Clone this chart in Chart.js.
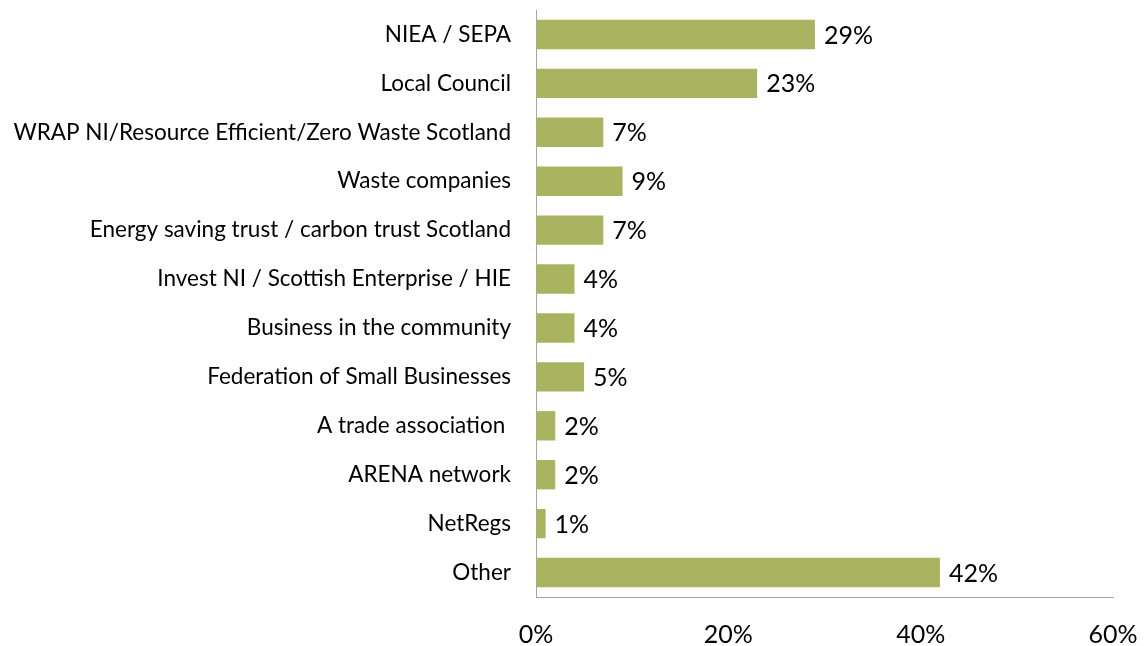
<!DOCTYPE html>
<html>
<head>
<meta charset="utf-8">
<script src="https://cdn.jsdelivr.net/npm/chart.js@4"></script>
<style>
  html, body { margin: 0; padding: 0; background: #fff; }
  #wrap { width: 1148px; height: 646px; }
</style>
</head>
<body>
<div id="wrap"><canvas id="sources-canvas"></canvas></div>
<script>
const categories = [
  "NIEA / SEPA",
  "Local Council",
  "WRAP NI/Resource Efficient/Zero Waste Scotland",
  "Waste companies",
  "Energy saving trust / carbon trust Scotland",
  "Invest NI / Scottish Enterprise / HIE",
  "Business in the community",
  "Federation of Small Businesses",
  "A trade association ",
  "ARENA network",
  "NetRegs",
  "Other",
];
const percentages = [29, 23, 7, 9, 7, 4, 4, 5, 2, 2, 1, 42];
const xTickValues = [0, 20, 40, 60];

const fontFamily = "Lato, 'Open Sans', sans-serif";
const barColor = "#A9B360";
const axisColor = "#A6A6A6";

// writes the "29%" labels just past each bar end
const valueLabels = {
  id: "valueLabels",
  afterDatasetsDraw(chart) {
    const { ctx } = chart;
    const meta = chart.getDatasetMeta(0);
    ctx.save();
    ctx.font = "25px " + fontFamily;
    ctx.fillStyle = "#000";
    ctx.textAlign = "left";
    ctx.textBaseline = "middle";
    meta.data.forEach((bar, i) => {
      ctx.fillText(percentages[i] + "%", bar.x + 9, bar.y + 1);
    });
    ctx.restore();
  },
};

new Chart(document.getElementById("sources-canvas"), {
  type: "bar",
  data: {
    labels: categories,
    datasets: [
      {
        label: "Share of respondents",
        data: percentages,
        backgroundColor: barColor,
        borderWidth: 0,
        barPercentage: 0.75,
        categoryPercentage: 0.8,
      },
    ],
  },
  options: {
    indexAxis: "y",
    responsive: true,
    maintainAspectRatio: false,
    animation: false,
    layout: {
      padding: { top: 10, right: 35, left: 0, bottom: 0 },
    },
    scales: {
      y: {
        afterFit: (scale) => {
          scale.width = 536;
          // stop the label padding from pushing the plot down
          scale.paddingTop = 0;
          scale.paddingBottom = 0;
        },
        grid: { drawOnChartArea: false, drawTicks: false },
        border: { color: axisColor, width: 1 },
        ticks: {
          color: "#000",
          padding: 25,
          font: { family: fontFamily, size: 22.5 },
        },
      },
      x: {
        min: 0,
        max: 60,
        afterFit: (scale) => {
          scale.height = 49;
          scale.paddingLeft = 0;
          scale.paddingRight = 0;
        },
        afterBuildTicks: (scale) => {
          scale.ticks = xTickValues.map((v) => ({ value: v }));
        },
        grid: { drawOnChartArea: false, drawTicks: false },
        border: { color: axisColor, width: 1 },
        ticks: {
          color: "#000",
          padding: 23,
          font: { family: fontFamily, size: 25 },
          maxRotation: 0,
          callback: (value) => value + "%",
        },
      },
    },
    plugins: {
      legend: { display: false },
      tooltip: { enabled: false },
    },
  },
  plugins: [valueLabels],
});
</script>
</body>
</html>
